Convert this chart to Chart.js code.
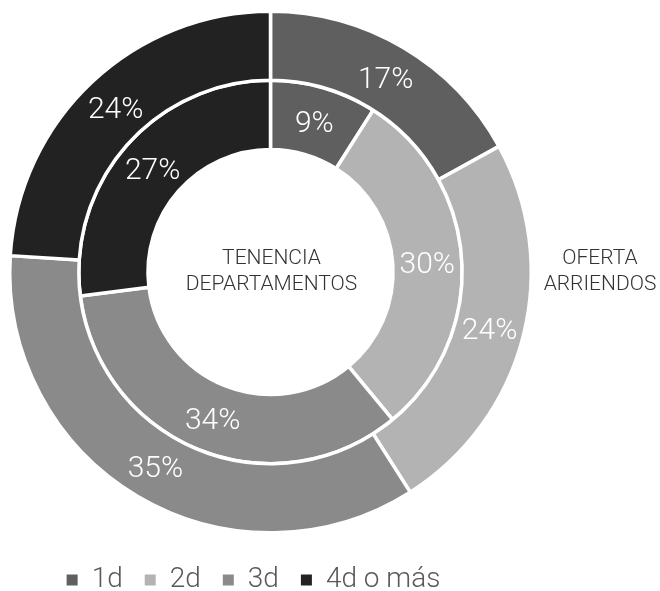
<!DOCTYPE html>
<html>
<head>
<meta charset="utf-8">
<script src="https://cdn.jsdelivr.net/npm/chart.js@4/dist/chart.umd.min.js"></script>
<style>
  html, body { margin: 0; padding: 0; background: #ffffff; }
  #wrap { position: relative; width: 660px; height: 591px; }
</style>
</head>
<body>
<div id="wrap"><canvas id="c"></canvas></div>
<script>
// ---- data ----
const categories = ['1d', '2d', '3d', '4d o más'];
const ofertaArriendos = [17, 24, 35, 24];      // outer ring
const tenenciaDepartamentos = [9, 30, 34, 27]; // inner ring
const ringNames = ['OFERTA ARRIENDOS', 'TENENCIA DEPARTAMENTOS'];
const sliceColors = ['#5f5f5f', '#b3b3b3', '#8a8a8a', '#222222'];

const FONT = 'Roboto';

const labelsPlugin = {
  id: 'sliceLabels',
  afterLayout(chart) {
    const lg = chart.legend;
    if (lg) { lg.left -= 17; lg.right -= 17; }
  },
  afterDatasetsDraw(chart) {
    const ctx = chart.ctx;
    ctx.save();
    ctx.fillStyle = '#ffffff';
    ctx.font = '300 30px ' + FONT;
    ctx.textAlign = 'center';
    ctx.textBaseline = 'middle';
    chart.data.datasets.forEach((ds, di) => {
      const meta = chart.getDatasetMeta(di);
      meta.data.forEach((arc, i) => {
        const p = arc.getProps(['x', 'y', 'startAngle', 'endAngle', 'innerRadius', 'outerRadius'], true);
        const a = (p.startAngle + p.endAngle) / 2;
        const r = (p.innerRadius + p.outerRadius) / 2;
        ctx.fillText(ds.data[i] + '%', p.x + Math.cos(a) * r, p.y + Math.sin(a) * r + 3);
      });
    });
    // ring captions
    const m0 = chart.getDatasetMeta(0).data[0];
    const cx = m0.x, cy = m0.y;
    ctx.fillStyle = '#333333';
    ctx.font = '300 21px ' + FONT;
    const inner = ringNames[1].split(' ');
    ctx.fillText(inner[0], cx + 1, cy - 13.5);
    ctx.fillText(inner[1], cx + 1, cy + 12.5);
    const outer = ringNames[0].split(' ');
    ctx.fillText(outer[0], 600, cy - 13.5);
    ctx.fillText(outer[1], 600, cy + 12.5);
    ctx.restore();
  }
};

new Chart(document.getElementById('c'), {
  type: 'doughnut',
  data: {
    labels: categories,
    datasets: [
      { label: ringNames[0], data: ofertaArriendos, backgroundColor: sliceColors, borderColor: '#ffffff', borderWidth: 3.5 },
      { label: ringNames[1], data: tenenciaDepartamentos, backgroundColor: sliceColors, borderColor: '#ffffff', borderWidth: 3.5 }
    ]
  },
  options: {
    responsive: true,
    maintainAspectRatio: false,
    animation: false,
    cutout: '47%',
    layout: { padding: { left: 8, right: 127, top: 0, bottom: 0 } },
    plugins: {
      tooltip: { enabled: false },
      legend: {
        position: 'bottom',
        maxHeight: 47,
        labels: {
          color: '#595959',
          font: { family: FONT, size: 28, weight: '300' },
          boxWidth: 11,
          boxHeight: 11,
          padding: 22,
          generateLabels(chart) {
            const items = Chart.overrides.doughnut.plugins.legend.labels.generateLabels(chart);
            items.forEach(it => { it.lineWidth = 0; it.strokeStyle = 'rgba(0,0,0,0)'; });
            return items;
          }
        }
      }
    }
  },
  plugins: [labelsPlugin]
});
</script>
</body>
</html>
